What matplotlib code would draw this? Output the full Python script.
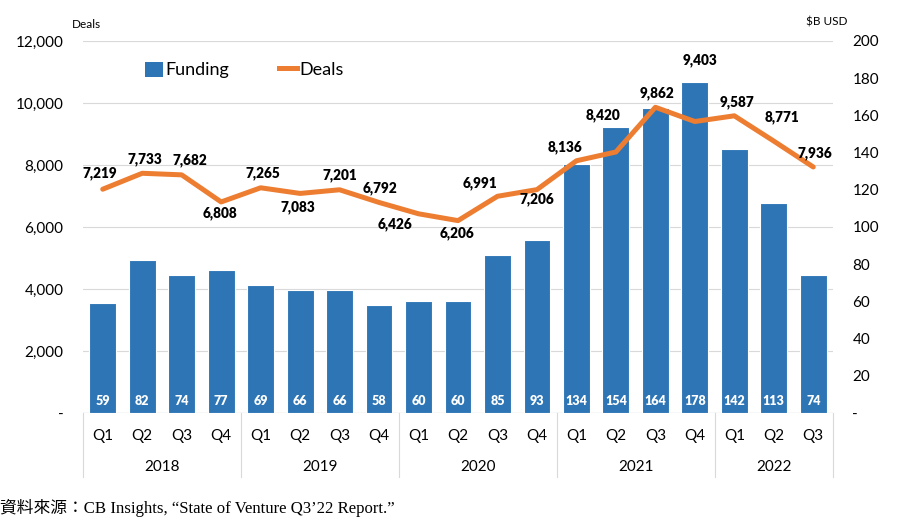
import matplotlib
matplotlib.use("Agg")
import matplotlib.pyplot as plt
from matplotlib.patches import Patch
from matplotlib.lines import Line2D
from matplotlib.ticker import FuncFormatter, MultipleLocator
import matplotlib.transforms as mtrans

quarters = ["Q1", "Q2", "Q3", "Q4", "Q1", "Q2", "Q3", "Q4", "Q1", "Q2", "Q3", "Q4",
            "Q1", "Q2", "Q3", "Q4", "Q1", "Q2", "Q3"]
years = ["2018", "2019", "2020", "2021", "2022"]
year_counts = [4, 4, 4, 4, 3]
funding = [59, 82, 74, 77, 69, 66, 66, 58, 60, 60, 85, 93, 134, 154, 164, 178, 142, 113, 74]
deals = [7219, 7733, 7682, 6808, 7265, 7083, 7201, 6792, 6426, 6206, 6991, 7206,
         8136, 8420, 9862, 9403, 9587, 8771, 7936]

# label offsets in pixels (style only)
lab_dx = [-3, 3, 8, -1, 2, -2, 0, 1, -24, -1, -17, 0, -11, -13, 2, 5, 3, 8, 2]
lab_dy = [16, 14, 15, -11, 15, -14, 15, 14, -10, -13, 13, -10, 14, 37, 14, 61, 14, 24, 14]

FONT = ["Lato", "DejaVu Sans"]
plt.rcParams["font.family"] = FONT
BLUE = "#2E75B6"
ORANGE = "#ED7D31"
GRID = "#D9D9D9"

fig = plt.figure(figsize=(9, 5.28), dpi=100)
L, R, T, B = 83, 833, 41, 413
W, H = 900, 528
ax = fig.add_axes([L / W, 1 - B / H, (R - L) / W, (B - T) / H])
ax2 = ax.twinx()
ax.set_zorder(ax2.get_zorder() + 1)
ax.patch.set_visible(False)

x = list(range(len(quarters)))

# bars on right axis
ax2.bar(x, funding, width=0.68, color=BLUE, edgecolor="white", linewidth=0.8, zorder=2)
ax2.set_ylim(0, 200)
ax2.yaxis.set_major_locator(MultipleLocator(20))
for i, v in enumerate(funding):
    ax2.annotate(str(v), (i, 0), xytext=(0, 12), textcoords="offset pixels",
                 ha="center", va="center", color="white", fontsize=9, fontweight="heavy")

# gridlines on left axis
ax.set_ylim(0, 12000)
ax.yaxis.set_major_locator(MultipleLocator(2000))
for g in range(2000, 12001, 2000):
    ax2.axhline(g / 60, color=GRID, linewidth=0.8, zorder=0)
ax2.axhline(0, color=GRID, linewidth=1.0, zorder=1)

ax.plot(x, deals, color=ORANGE, linewidth=3.6, solid_capstyle="round", solid_joinstyle="round", zorder=3)
for i, v in enumerate(deals):
    ax.annotate(f"{v:,}", (i, v), xytext=(lab_dx[i], lab_dy[i]), textcoords="offset pixels",
                ha="center", va="center", fontsize=9.8, fontweight="heavy", color="black")

ax.set_xlim(-0.5, len(quarters) - 0.5)

fmt_l = FuncFormatter(lambda v, p: "-" if v == 0 else f"{int(v):,}")
fmt_r = FuncFormatter(lambda v, p: "-" if v == 0 else f"{int(v)}")
ax.yaxis.set_major_formatter(fmt_l)
ax2.yaxis.set_major_formatter(fmt_r)
ax.tick_params(axis="y", length=0, pad=14, labelsize=11)
ax2.tick_params(axis="y", length=0, pad=14, labelsize=11)
ax.tick_params(axis="x", length=0, labelbottom=False)
for a in (ax, ax2):
    for s in a.spines.values():
        s.set_visible(False)

# category axis
trans = mtrans.blended_transform_factory(ax.transData, fig.transFigure)
for i, q in enumerate(quarters):
    fig.text(i, 1 - 436 / H, q, transform=trans, ha="center", va="center", fontsize=11)
start = 0
sep_top = 1 - 413 / H
sep_bot = 1 - 477 / H
edges = [-0.5]
for y, c in zip(years, year_counts):
    mid = start + (c - 1) / 2
    fig.text(mid, 1 - 467 / H, y, transform=trans, ha="center", va="center", fontsize=11)
    start += c
    edges.append(start - 0.5)
for e in edges:
    fig.add_artist(Line2D([e, e], [sep_top, sep_bot], transform=trans, color=GRID, linewidth=0.8))

# axis titles
fig.text(86 / W, 1 - 24 / H, "Deals", ha="center", va="center", fontsize=8.5)
fig.text(848 / W, 1 - 22 / H, "$B USD", ha="right", va="center", fontsize=8.5)

# legend
handles = [Patch(facecolor=BLUE, edgecolor="none", label="Funding"),
           Line2D([0], [0], color=ORANGE, linewidth=3.6, label="Deals")]
fig.legend(handles=handles, loc="center left", bbox_to_anchor=(129 / W, 1 - 70 / H), ncol=2,
           frameon=False, fontsize=13, handlelength=1.0, handletextpad=0.1,
           columnspacing=2.8, handleheight=0.9)

# source
fig.text(0, 1 - 508 / H, "資料來源：CB Insights, “State of Venture Q3’22 Report.”",
         ha="left", va="center", fontsize=12.1, family=["Liberation Serif", "Noto Sans CJK TC"])

fig.savefig("out.png", dpi=100)
